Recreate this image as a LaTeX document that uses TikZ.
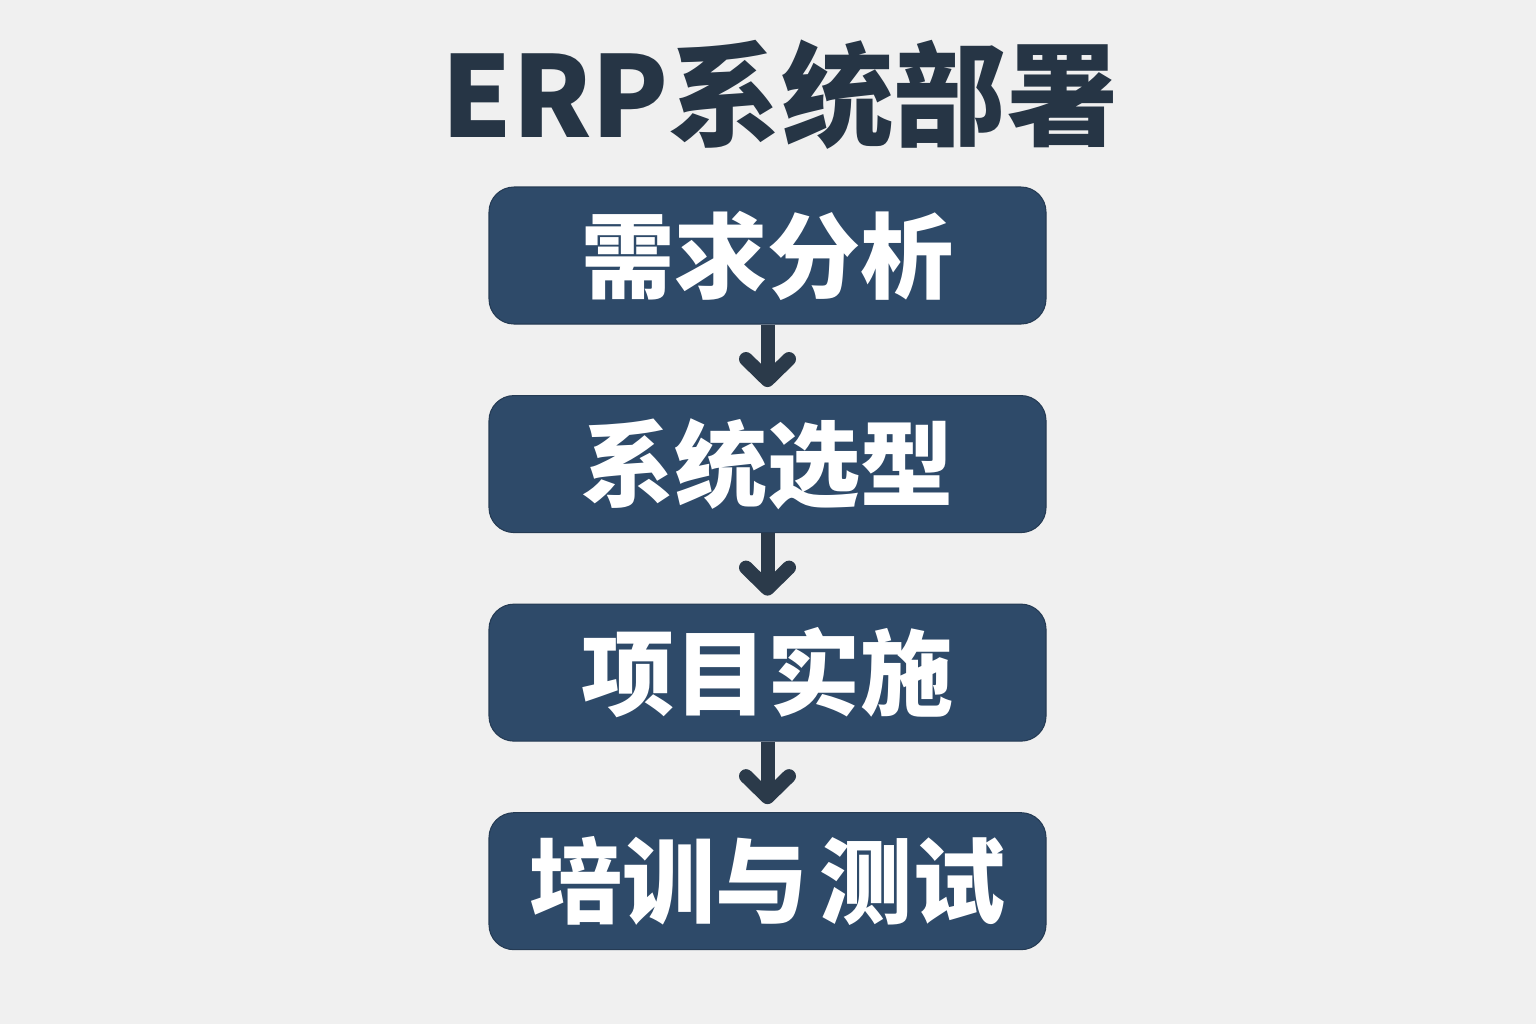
\documentclass[tikz,border=0pt]{standalone}
\usepackage{fontspec}
\newfontfamily\cjk{Noto Sans CJK SC}
\usetikzlibrary{arrows.meta,positioning}

\definecolor{bgGray}{HTML}{F0F0F0}
\definecolor{boxBlue}{HTML}{2E4A69}
\definecolor{titleNavy}{HTML}{263545}
\definecolor{arrowNavy}{HTML}{2B3A4A}

\begin{document}
\begin{tikzpicture}[
  font=\cjk\bfseries,
  step box/.style={draw=boxBlue!80!black, line width=0.6pt, fill=boxBlue, rounded corners=0.5cm,
    minimum width=11.14cm, minimum height=2.74cm, text=white,
    font=\cjk\bfseries\fontsize{53pt}{57pt}\selectfont},
  flow/.style={draw=arrowNavy, line width=0.28cm, shorten >=0.16cm,
    -{Straight Barb[length=0.42cm, width=0.86cm, line width=0.28cm, round]}},
  node distance=1.41cm,
]
% background and page size
\fill[bgGray] (0,0) rectangle (30.72,-20.48);
\useasboundingbox (0,0) rectangle (30.72,-20.48);

% Title
\node[text=titleNavy, font=\cjk\bfseries\fontsize{64pt}{70pt}\selectfont] (title) at (15.6,-1.9) {ERP系统部署};

% Steps, top to bottom
\node[step box] (need) at (15.35,-5.11) {需求分析};
\node[step box, below=of need] (select) {系统选型};
\node[step box, below=of select] (impl) {项目实施};
\node[step box, below=of impl] (train) {培训与\hspace{0.12em}测试};

% Arrows between steps
\draw[flow] (need) -- (select);
\draw[flow] (select) -- (impl);
\draw[flow] (impl) -- (train);

\end{tikzpicture}
\end{document}
